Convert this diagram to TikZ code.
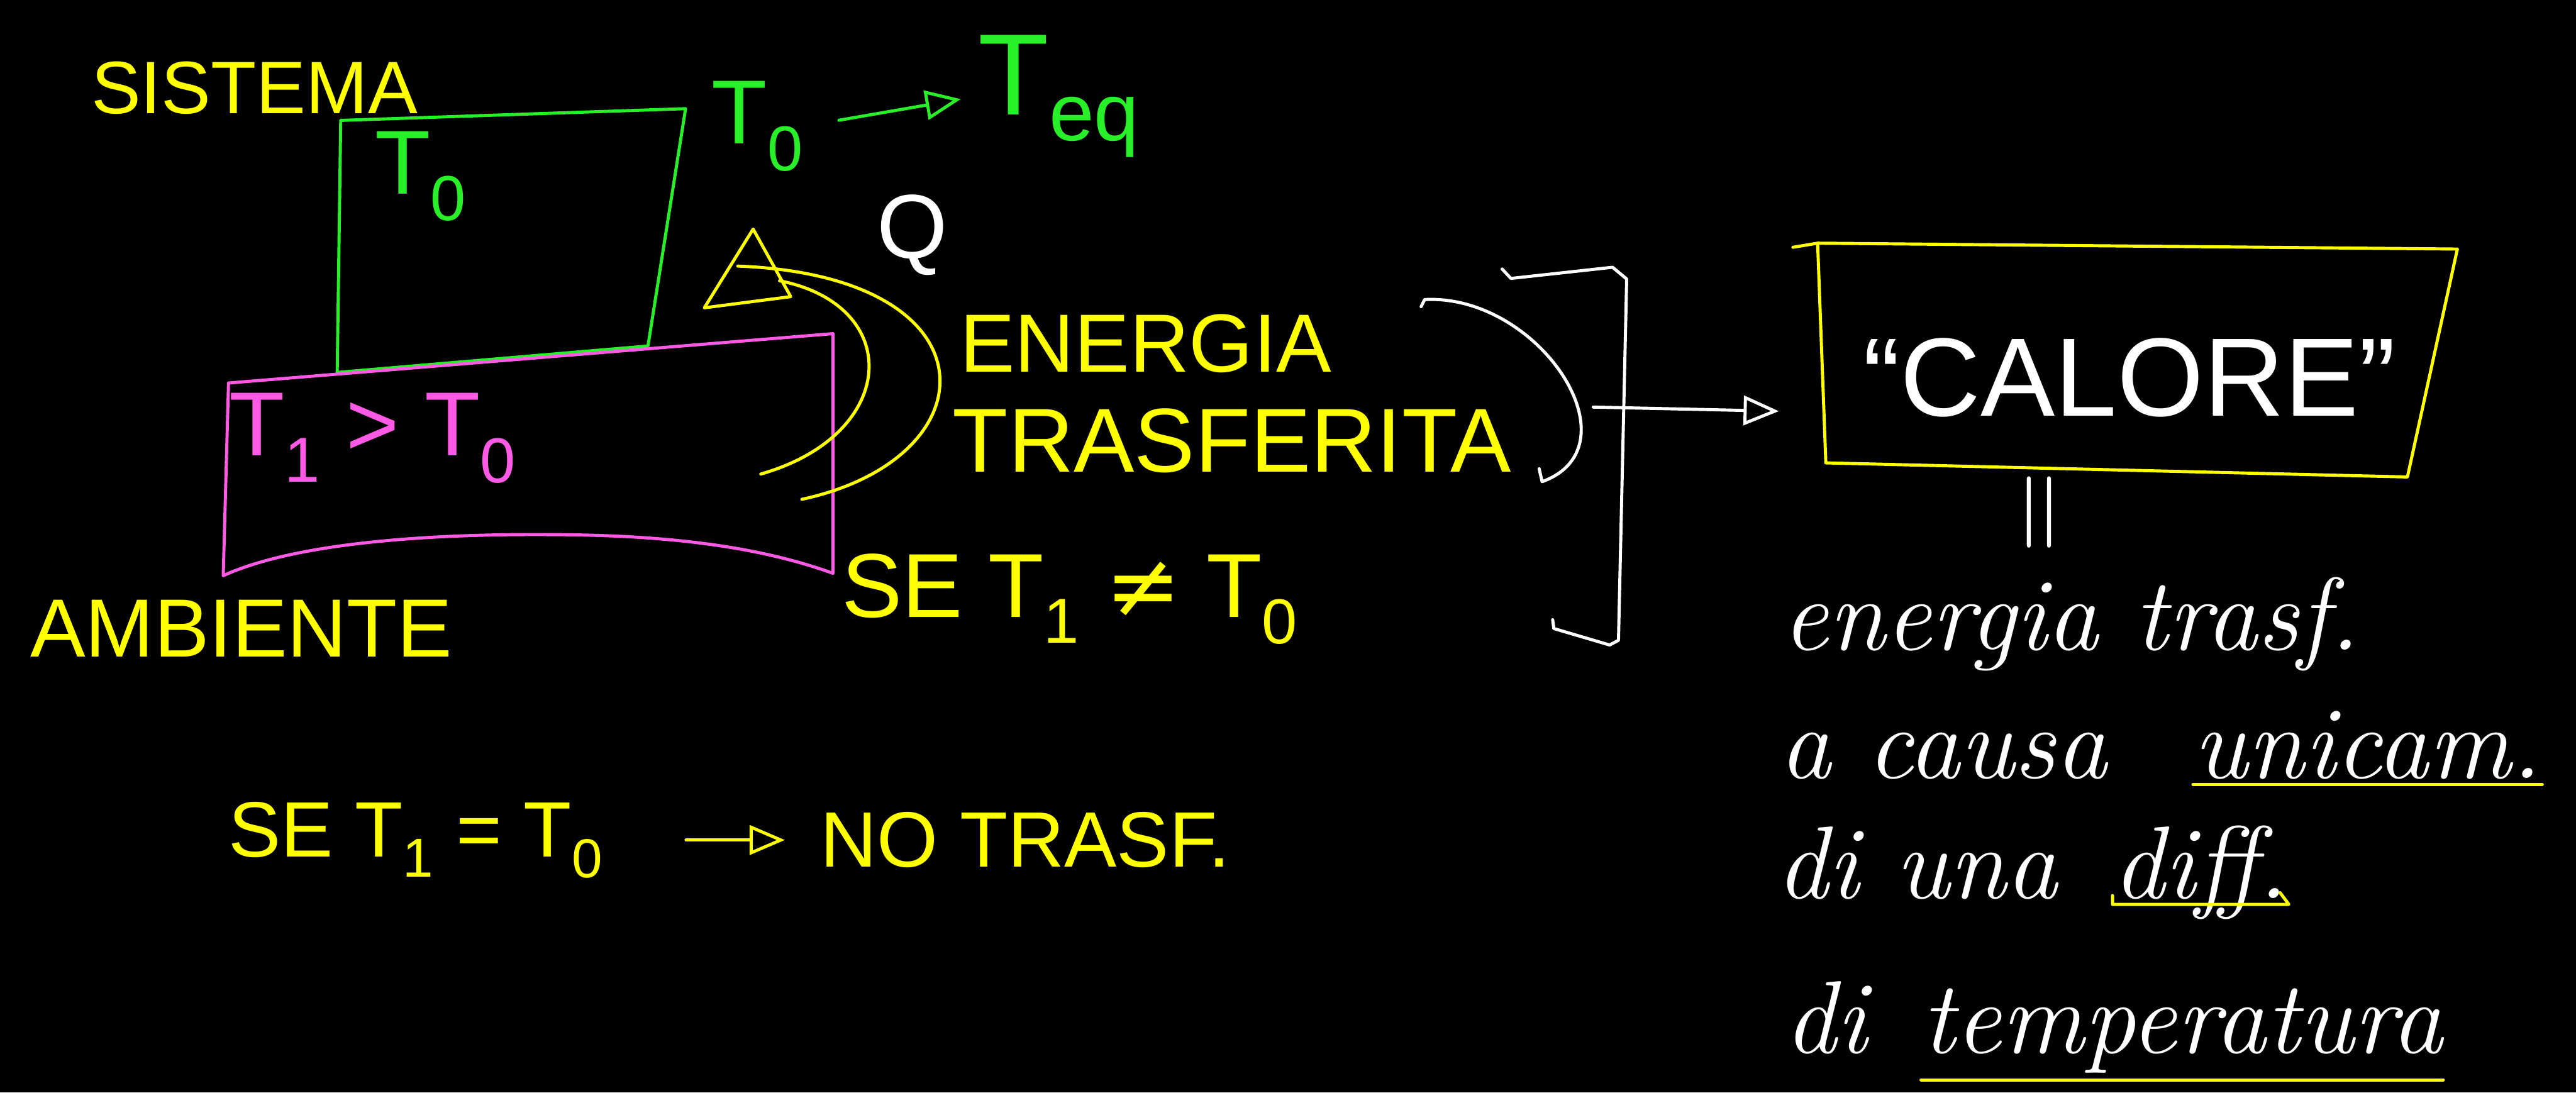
\documentclass[tikz,border=0pt]{standalone}
\usepackage{fontspec}
\setsansfont{Liberation Sans}
\newfontfamily\symbfont{DejaVu Sans}
\usepackage{tikz}
\usepackage{xcolor}
\usetikzlibrary{arrows.meta}

\definecolor{hlyellow}{RGB}{255,255,0}
\definecolor{hlgreen}{RGB}{40,240,40}
\definecolor{hlpink}{RGB}{255,90,230}

\tikzset{
	pen/.style={line width=1.5pt, line cap=round, line join=round},
	capsS/.style={font=\sffamily\fontsize{36}{40}\selectfont, inner sep=0pt},
	capsM/.style={font=\sffamily\fontsize{40}{44}\selectfont, inner sep=0pt},
	capsL/.style={font=\sffamily\fontsize{44}{48}\selectfont, inner sep=0pt},
	cursive/.style={text=white, font=\itshape\fontsize{50}{56}\selectfont, inner sep=0pt, anchor=base west},
	openhead/.style={-{Triangle[open,length=6mm,width=5mm]}}
}

\begin{document}
\begin{tikzpicture}
					\useasboundingbox (0,0) rectangle (43.85,18.60);
					\fill[black] (0,0) rectangle (43.85,18.60);
					
					% Sistema and ambiente
					\draw[pen, hlgreen] (5.80,16.55) -- (11.67,16.75) -- (11.03,12.71) -- (5.74,12.26) -- cycle;
					\draw[pen, hlpink] (3.89,12.08) -- (14.18,12.92) -- (14.18,8.84) .. controls (12.5,9.45) and (10.5,9.50) .. (9.10,9.50) .. controls (7.20,9.50) and (5.00,9.35) .. (3.80,8.80) -- cycle;
					\node[capsS, text=hlyellow] (sistema) at (4.33,17.10) {SISTEMA};
					\node[capsL, text=hlgreen] (tzero) at (7.17,15.60) {T\textsubscript{0}};
					\node[capsL, text=hlpink] (tuno) at (6.35,11.14) {T\textsubscript{1} > T\textsubscript{0}};
					\node[capsM, text=hlyellow] (ambiente) at (4.11,7.90) {AMBIENTE};
					
					% T0 -> Teq
					\node[capsL, text=hlgreen] (tstart) at (12.90,16.45) {T\textsubscript{0}};
					\node[font=\sffamily\fontsize{56}{60}\selectfont, inner sep=0pt, text=hlgreen, anchor=base west] (teq) at (16.65,16.65) {T\textsubscript{eq}};
					\draw[pen, hlgreen, openhead, shorten <=6mm, shorten >=3mm] (tstart.east) -- (teq.west);
					
					% Q from ambiente to sistema
					\node[capsL, text=white] (q) at (15.53,14.60) {Q};
					\coordinate (tipa) at (12.82,14.70);
					\coordinate (tipb) at (11.99,13.36);
					\coordinate (tipc) at (13.46,13.55);
					\draw[pen, hlyellow] (12.95,10.53) .. controls (15.3,11.2) and (15.4,13.4) .. (13.27,13.82);
					\draw[pen, hlyellow] (13.65,10.10) .. controls (16.9,10.8) and (17.0,13.9) .. (12.56,14.07);
					\draw[pen, hlyellow] (tipa) -- (tipb) -- (tipc) -- cycle;
					
					% Energia trasferita
					\node[capsM, text=hlyellow, anchor=west] (energia) at (16.33,12.75) {ENERGIA};
					\node[capsL, text=hlyellow, anchor=west] (trasferita) at (16.21,11.10) {TRASFERITA};
					\node[capsL, text=hlyellow, anchor=west] (diverso) at (14.32,8.40) {SE T\textsubscript{1} {\symbfont ≠} T\textsubscript{0}};
					
					% Bracket and arrow
					\draw[pen, white] (24.19,13.38) -- (24.25,13.50) .. controls (26.2,13.6) and (27.9,11.0) .. (26.25,10.40) -- (26.20,10.62);
					\draw[pen, white] (25.57,14.02) -- (25.72,13.86) -- (27.45,14.05) -- (27.69,13.85) -- (27.55,7.70) -- (27.40,7.62) -- (26.45,7.90) -- (26.43,8.05);
					\coordinate (brackout) at (27.12,11.67);
					\coordinate (calin) at (30.28,11.60);
					\draw[pen, white, openhead] (brackout) -- (calin);
					
					% Calore
					\draw[pen, hlyellow] (30.52,14.39) -- (30.94,14.46) -- (41.83,14.36) -- (40.98,10.48) -- (31.08,10.72) -- (30.94,14.46);
					\node[font=\sffamily\fontsize{54}{60}\selectfont, inner sep=0pt, text=white, anchor=base] (calore) at (36.25,11.52) {“CALORE”};
					\node[text=white, rotate=90, font=\fontsize{55}{60}\selectfont] (uguale) at (34.85,9.88) {=};
					
					% Definition
					\node[cursive] (riga1) at (30.33,7.54) {energia trasf.};
					\node[cursive] (riga2) at (30.28,5.35) {a causa};
					\node[cursive] (unicam) at (37.33,5.35) {unicam.};
					\node[cursive] (riga3) at (30.23,3.31) {di una};
					\node[cursive] (diff) at (35.96,3.31) {diff.};
					\node[cursive] (riga4) at (30.37,0.67) {di};
					\node[cursive] (temperatura) at (32.70,0.67) {temperatura};
					\draw[pen, hlyellow] ([yshift=-3pt]unicam.base west) -- ([yshift=-3pt]unicam.base east);
					\draw[pen, hlyellow] ([yshift=-3pt]diff.base west) ++(0,0.15) -- ++(0,-0.15) -- ([yshift=-3pt]diff.base east) -- ++(-0.15,0.2);
					\draw[pen, hlyellow] ([yshift=-3pt]temperatura.south west) -- ([yshift=-3pt]temperatura.south east);
					
					% No transfer
					\node[font=\sffamily\fontsize{38}{42}\selectfont, inner sep=0pt, text=hlyellow] (uguali) at (7.08,4.30) {SE T\textsubscript{1} = T\textsubscript{0}};
					\node[font=\sffamily\fontsize{38}{42}\selectfont, inner sep=0pt, text=hlyellow, anchor=west] (notrasf) at (13.96,4.30) {NO TRASF.};
					\draw[pen, hlyellow, openhead, shorten <=14mm, shorten >=6mm] (uguali.east) -- (notrasf.west);
				\end{tikzpicture}
\end{document}
